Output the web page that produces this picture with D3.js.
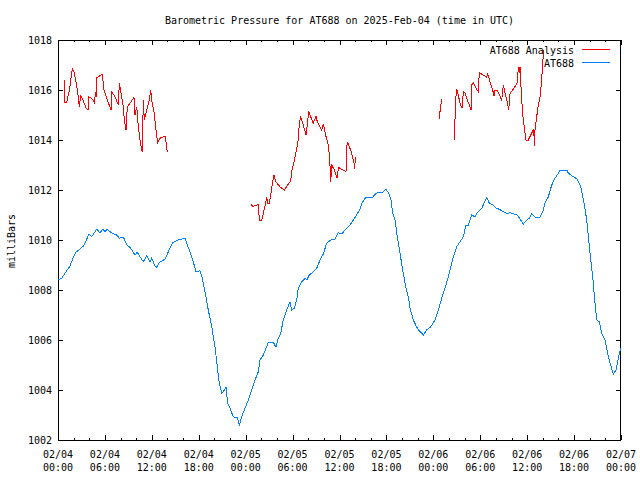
<!DOCTYPE html>
<html>
<head>
<meta charset="utf-8">
<script src="https://cdn.jsdelivr.net/npm/d3@7"></script>
<style>
  html, body { margin: 0; padding: 0; background: #fff; }
  svg { display: block; }
  text { font-family: "DejaVu Sans Mono", "Liberation Mono", monospace; font-size: 10px; fill: #000; }
</style>
</head>
<body>
<svg id="chart" width="640" height="480"></svg>
<script>
// ---------------- data (hours after 2025-02-04 00:00 UTC, milliBars) ----------------
const titleText = "Barometric Pressure for AT688 on 2025-Feb-04 (time in UTC)";
const yLabel = "milliBars";
const seriesNames = ["AT688 Analysis", "AT688"];
const yTicks = [1002, 1004, 1006, 1008, 1010, 1012, 1014, 1016, 1018];

const blueHours = [
  0,0.47,0.90,1.53,1.96,2.30,2.81,3.24,3.58,3.96,
  4.31,4.64,4.95,5.37,5.72,6.01,6.31,6.65,7.16,7.51,
  7.84,8.15,8.44,8.79,9.21,9.85,10.14,10.49,10.91,11.34,
  11.77,11.98,12.41,12.62,12.96,13.68,14.11,14.67,15.39,16.24,
  16.46,16.88,17.30,17.65,18.16,18.46,18.80,19.22,19.66,20.08,
  20.37,20.63,20.94,21.14,21.49,21.70,22.00,22.42,22.93,23.19,
  23.49,23.92,24.34,24.77,25.19,25.62,25.83,26.26,26.77,26.89,
  27.53,27.88,28.17,28.48,28.81,29.25,29.67,29.89,30.22,30.53,
  30.73,31.17,31.59,31.81,32.14,32.65,33.09,33.51,33.93,34.36,
  35.00,35.43,35.85,36.28,36.70,37.34,37.98,38.62,38.84,39.39,
  40.25,40.54,40.96,41.53,41.95,42.24,42.55,42.81,43.10,43.39,
  43.74,44.08,44.47,44.80,45.02,45.44,45.88,46.30,46.72,47.15,
  47.67,48.22,48.64,49.07,49.49,50.04,50.56,50.99,51.41,51.84,
  52.18,52.48,52.91,53.33,53.63,54.19,54.48,54.83,55.16,55.67,
  56.02,56.44,56.95,57.39,57.90,58.32,58.74,59.18,59.51,59.94,
  60.28,60.58,61.00,61.64,61.99,62.28,62.71,63.14,63.56,63.99,
  64.21,65.06,65.27,65.91,66.42,66.85,67.27,67.62,68.04,68.38,
  68.68,68.90,69.23,69.54,69.96,70.25,70.60,71.02,71.37,71.66,
  71.97
];
const bluePressure = [
  1008.4,1008.47,1008.67,1008.96,1009.31,1009.51,1009.63,1009.76,1009.97,1010.23,
  1010.13,1010.29,1010.43,1010.29,1010.43,1010.33,1010.43,1010.33,1010.24,1010.2,
  1010.07,1010.11,1010.07,1009.8,1009.71,1009.4,1009.51,1009.33,1009.13,1009.37,
  1009.13,1009.27,1008.96,1008.91,1009.11,1009.23,1009.53,1009.89,1010.0,1010.07,
  1009.87,1009.53,1009.13,1008.73,1008.77,1008.47,1007.93,1007.2,1006.53,1005.73,
  1004.93,1004.27,1003.87,1003.93,1004.11,1003.47,1003.27,1002.93,1002.89,1002.6,
  1002.93,1003.27,1003.6,1004.0,1004.4,1004.73,1005.2,1005.4,1005.8,1005.91,
  1005.91,1005.71,1006.07,1006.27,1006.8,1007.2,1007.53,1007.2,1007.27,1007.6,
  1008.07,1008.33,1008.47,1008.4,1008.6,1008.73,1008.87,1009.2,1009.44,1009.87,
  1010.03,1010.03,1010.29,1010.24,1010.4,1010.6,1010.9,1011.23,1011.47,1011.71,
  1011.71,1011.83,1011.91,1011.91,1012.03,1011.89,1011.67,1011.07,1010.8,1010.13,
  1009.47,1008.8,1008.13,1007.73,1007.27,1006.8,1006.51,1006.33,1006.2,1006.4,
  1006.53,1006.8,1007.2,1007.67,1008.07,1008.67,1009.33,1009.73,1009.93,1010.13,
  1010.6,1010.6,1011.0,1010.93,1011.09,1011.27,1011.47,1011.71,1011.47,1011.4,
  1011.27,1011.23,1011.13,1011.07,1011.09,1011.04,1011.0,1010.8,1010.64,1010.8,
  1010.87,1011.04,1010.91,1010.91,1011.13,1011.47,1011.73,1012.2,1012.47,1012.67,
  1012.8,1012.8,1012.67,1012.53,1012.43,1012.13,1011.47,1010.8,1009.47,1008.53,
  1007.47,1006.8,1006.73,1006.27,1006.0,1005.53,1005.07,1004.64,1004.8,1005.27,
  1005.67
];

// Analysis series: null marks a gap in the data
const redHours = [
  0.81,0.81,1.11,1.32,1.53,1.83,2.05,2.30,2.60,2.72,
  2.90,3.11,3.58,3.84,3.93,4.31,4.64,4.82,4.90,4.95,
  5.37,5.67,5.88,6.31,6.78,6.87,7.29,7.71,7.84,8.06,
  8.35,8.48,8.70,8.86,9.21,9.72,9.85,10.07,10.27,10.58,
  10.78,10.91,11.04,11.34,11.64,11.86,12.02,12.28,12.53,12.75,
  13.05,13.68,13.81,13.98,
  null,
  24.68,24.90,25.62,25.75,26.05,26.26,26.56,26.69,26.82,27.02,
  27.20,27.41,27.62,27.84,28.39,28.94,29.38,29.76,29.89,30.18,
  30.53,30.73,30.86,31.04,31.30,31.55,31.72,31.88,32.06,32.23,
  32.65,33.00,33.16,33.51,33.73,33.93,34.28,34.49,34.66,34.79,
  34.88,35.00,35.34,35.72,35.85,36.28,36.83,36.92,37.00,37.26,
  37.56,37.86,37.90,38.07,
  null,
  48.77,48.85,49.07,
  null,
  50.68,50.86,50.99,51.19,51.41,51.67,51.84,52.05,52.35,52.69,
  52.82,52.91,53.11,53.55,53.75,53.88,54.39,54.83,54.96,55.16,
  55.34,55.59,55.76,55.89,56.18,56.44,56.75,56.95,57.17,57.46,
  57.64,57.81,58.32,58.74,58.87,59.00,59.09,59.25,59.43,59.73,
  59.85,60.15,60.45,60.79,60.88,60.92,61.00,61.22,61.43,61.65,
  61.86,61.99,62.16
];
const redPressure = [
  1016.4,1015.49,1015.49,1015.8,1016.13,1016.87,1016.73,1016.33,1015.73,1015.33,
  1015.77,1015.67,1015.28,1015.2,1015.73,1015.67,1015.51,1015.91,1015.73,1016.49,
  1016.57,1016.63,1016.0,1015.6,1015.2,1015.93,1015.73,1015.4,1016.27,1015.87,
  1015.33,1014.8,1014.4,1015.33,1015.47,1015.71,1015.0,1015.33,1014.53,1013.8,
  1013.53,1015.6,1014.8,1015.2,1015.56,1016.0,1015.53,1015.13,1014.4,1013.89,
  1014.07,1014.16,1013.93,1013.51,
  null,
  1011.44,1011.33,1011.43,1010.8,1010.8,1011.07,1011.47,1011.71,1011.47,1011.47,
  1011.8,1012.23,1012.59,1012.33,1012.13,1012.0,1012.2,1012.37,1012.76,1013.13,
  1013.67,1014.0,1014.67,1014.91,1014.67,1014.4,1014.2,1014.6,1015.17,1015.0,
  1014.67,1014.96,1014.73,1014.53,1014.4,1014.63,1014.13,1013.93,1013.53,1012.93,
  1012.33,1013.0,1012.8,1012.47,1012.91,1012.83,1012.73,1013.67,1013.93,1013.73,
  1013.47,1013.07,1012.84,1013.33,
  null,
  1014.83,1015.13,1015.63,
  null,
  1014.0,1015.63,1016.03,1015.8,1015.47,1015.27,1015.93,1015.89,1015.6,1015.33,
  1015.2,1016.2,1016.29,1016.03,1015.93,1016.69,1016.6,1016.51,1016.64,1016.43,
  1016.24,1016.0,1015.76,1016.0,1015.97,1015.8,1015.6,1016.2,1015.87,1015.53,
  1015.2,1015.87,1016.07,1016.29,1016.91,1016.67,1016.93,1015.87,1015.0,1014.27,
  1014.0,1014.0,1014.2,1014.4,1014.13,1013.76,1014.4,1014.93,1015.4,1015.73,
  1016.43,1017.13,1017.6
];

const startMs = Date.UTC(2025, 1, 4, 0, 0);
const endMs = Date.UTC(2025, 1, 7, 0, 0);
const colors = { analysis: "#ff0000", obs: "#0080ff" };

// ---------------- layout ----------------
const L = 58, R = 621, T = 40, B = 440;
const svg = d3.select("#chart");

const x = d3.scaleUtc().domain([new Date(startMs), new Date(endMs)]).range([L, R]);
const y = d3.scaleLinear().domain([1002, 1018]).range([B, T]);

const toDate = h => new Date(startMs + h * 3600000);
const blue = blueHours.map((h, i) => ({ t: toDate(h), v: bluePressure[i] }));
const red = redHours.map((h, i) => ({ t: h == null ? null : toDate(h), v: redPressure[i] }));

// ---------------- axes (ticks inward on all four sides) ----------------
const majorX = d3.utcHour.every(6).range(new Date(startMs), new Date(endMs + 1));
const minorX = d3.utcHour.every(2).range(new Date(startMs), new Date(endMs + 1));

function styleAxis(g) {
  g.select(".domain").remove();
  g.selectAll("line").attr("stroke", "#000").attr("shape-rendering", "crispEdges");
  g.selectAll("text").remove();
}
svg.append("g").attr("transform", `translate(0,${B})`)
  .call(d3.axisBottom(x).tickValues(minorX).tickSize(-2).tickFormat("")).call(styleAxis);
svg.append("g").attr("transform", `translate(0,${B})`)
  .call(d3.axisBottom(x).tickValues(majorX).tickSize(-5).tickFormat("")).call(styleAxis);
svg.append("g").attr("transform", `translate(0,${T})`)
  .call(d3.axisTop(x).tickValues(minorX).tickSize(-2).tickFormat("")).call(styleAxis);
svg.append("g").attr("transform", `translate(0,${T})`)
  .call(d3.axisTop(x).tickValues(majorX).tickSize(-5).tickFormat("")).call(styleAxis);
svg.append("g").attr("transform", `translate(${L},0)`)
  .call(d3.axisLeft(y).tickValues(yTicks).tickSize(-5).tickFormat("")).call(styleAxis);
svg.append("g").attr("transform", `translate(${R},0)`)
  .call(d3.axisRight(y).tickValues(yTicks).tickSize(-5).tickFormat("")).call(styleAxis);

// frame
svg.append("rect").attr("x", L + 0.5).attr("y", T + 0.5)
  .attr("width", R - L - 1).attr("height", B - T)
  .attr("fill", "none").attr("stroke", "#000").attr("shape-rendering", "crispEdges");

// tick labels
const fmtDay = d3.utcFormat("%m/%d"), fmtTime = d3.utcFormat("%H:%M");
const xl = svg.append("g");
majorX.forEach(d => {
  xl.append("text").attr("x", x(d)).attr("y", 457.5).attr("text-anchor", "middle").text(fmtDay(d));
  xl.append("text").attr("x", x(d)).attr("y", 470.5).attr("text-anchor", "middle").text(fmtTime(d));
});
svg.append("g").selectAll("text").data(yTicks).join("text")
  .attr("x", 52).attr("y", d => y(d) + 3.6).attr("text-anchor", "end").text(d => d);

// titles
svg.append("text").attr("x", (L + R) / 2).attr("y", 24).attr("text-anchor", "middle").text(titleText);
svg.append("text").attr("transform", "translate(14.5,241) rotate(-90)").attr("text-anchor", "middle").text(yLabel);

// ---------------- series ----------------
const line = d3.line().defined(d => d.t != null && d.v != null).x(d => x(d.t)).y(d => y(d.v));
svg.append("path").datum(blue).attr("d", line).attr("fill", "none")
  .attr("stroke", colors.obs).attr("stroke-width", 1).attr("shape-rendering", "crispEdges");
svg.append("path").datum(red).attr("d", line).attr("fill", "none")
  .attr("stroke", colors.analysis).attr("stroke-width", 1).attr("shape-rendering", "crispEdges");

// ---------------- legend ----------------
const legend = [
  { name: seriesNames[0], color: colors.analysis, yy: 49.5 },
  { name: seriesNames[1], color: colors.obs, yy: 62.5 }
];
legend.forEach(d => {
  svg.append("text").attr("x", 574).attr("y", d.yy + 4.2).attr("text-anchor", "end").text(d.name);
  svg.append("line").attr("x1", 582).attr("x2", 610).attr("y1", d.yy).attr("y2", d.yy)
    .attr("stroke", d.color).attr("shape-rendering", "crispEdges");
});
</script>
</body>
</html>
